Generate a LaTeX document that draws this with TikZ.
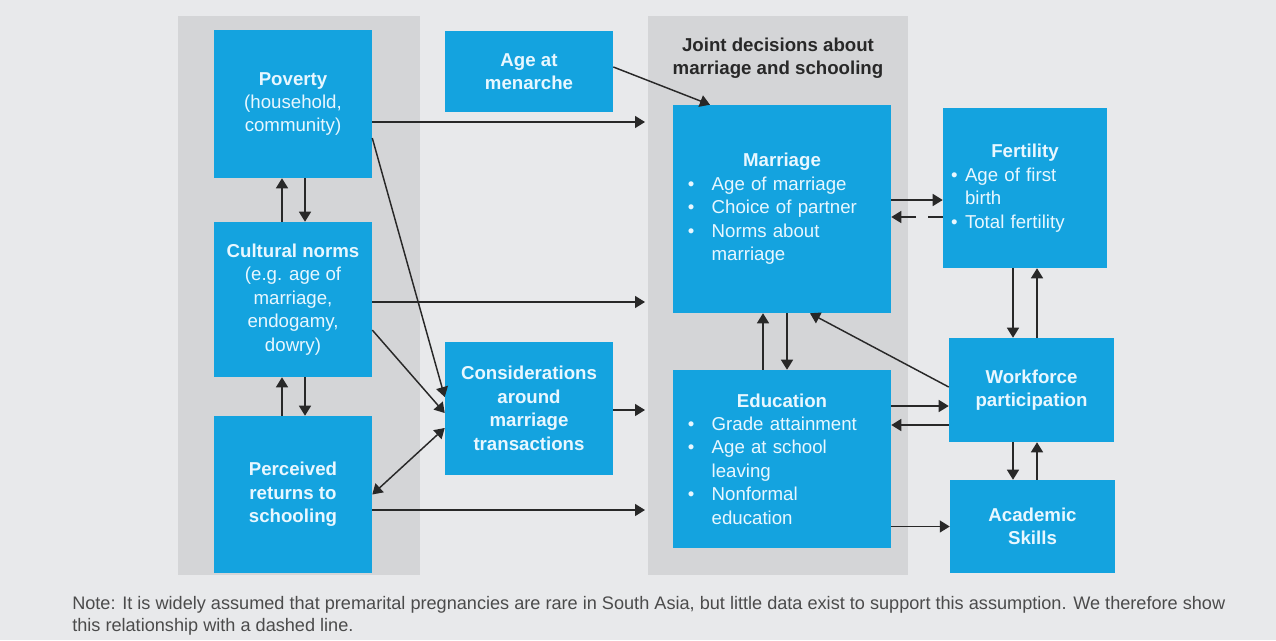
\documentclass[tikz,border=0pt]{standalone}
\usepackage{fontspec}
\setmainfont{Liberation Sans}
\usetikzlibrary{arrows.meta}

\definecolor{bgcol}{RGB}{232,233,235}
\definecolor{panelcol}{RGB}{212,213,215}
\definecolor{boxcol}{RGB}{20,163,223}
\definecolor{boxtxt}{RGB}{232,247,255}
\definecolor{linecol}{RGB}{40,40,40}
\definecolor{notecol}{RGB}{75,75,75}

% bullet list used inside the blue boxes
\newenvironment{dotlist}[1]{\begin{list}{\textbullet}{\setlength\leftmargin{#1}\setlength\labelwidth{5pt}\setlength\labelsep{\dimexpr#1-5pt\relax}\setlength\topsep{0pt}\setlength\partopsep{0pt}\setlength\itemsep{0pt}\setlength\parsep{0pt}}}{\end{list}}

\tikzset{
  blockbox/.style={fill=boxcol, text=boxtxt, inner sep=0pt, align=center, font=\fontsize{14}{17.6}\selectfont},
  arr/.style={->, draw=linecol, line width=1.1pt},
  notetext/.style={text=notecol, align=left, inner sep=0pt, font=\fontsize{13.6}{16.5}\selectfont}
}

\begin{document}
\begin{tikzpicture}[x=0.75pt,y=0.75pt,yscale=-1,xscale=1, >={Triangle[length=7.5pt,width=9pt]}]
\useasboundingbox (0,0) rectangle (1276,640);

%Shape: Background
\fill[bgcol] (0,0) rectangle (1276,640);
%Shape: Panels
\fill[panelcol] (178,16) rectangle (420,575);
\fill[panelcol] (648,16) rectangle (908,575);

\node[font=\bfseries\fontsize{14}{17.25}\selectfont, text=linecol, align=center] (jointtitle) at (778,58) {Joint decisions about\\marriage and schooling};

%Left column
\node[blockbox, minimum width=118.5pt, minimum height=111pt] (poverty) at (293,104) {\textbf{Poverty}\\(household,\\community)};
\node[blockbox, minimum width=118.5pt, minimum height=116.25pt] (norms) at (293,299.5) {\textbf{Cultural norms}\\(e.g. age of\\marriage,\\endogamy,\\dowry)};
\node[blockbox, minimum width=118.5pt, minimum height=117.75pt] (returns) at (293,494.5) {\textbf{Perceived}\\\textbf{returns to}\\\textbf{schooling}};

%Middle column
\node[blockbox, minimum width=126pt, minimum height=60.75pt] (menarche) at (529,71.5) {\textbf{Age at}\\\textbf{menarche}};
\node[blockbox, minimum width=126pt, minimum height=99.75pt] (transact) at (529,408.5) {\textbf{Considerations}\\\textbf{around}\\\textbf{marriage}\\\textbf{transactions}};

%Joint decisions
\node[blockbox, align=left, minimum width=163.5pt, minimum height=156pt, inner xsep=11pt, text width=141.5pt] (marriage) at (782,209) {{\centering\textbf{Marriage}\par}
\begin{dotlist}{18pt}
\item Age of marriage
\item Choice of partner
\item Norms about\newline marriage
\end{dotlist}};
\node[blockbox, align=left, minimum width=163.5pt, minimum height=133.5pt, inner xsep=11pt, text width=141.5pt] (educ) at (782,459) {{\centering\textbf{Education}\par}
\begin{dotlist}{18pt}
\item Grade attainment
\item Age at school\newline leaving
\item Nonformal\newline education
\end{dotlist}};

%Right column
\node[blockbox, align=left, minimum width=123pt, minimum height=120pt, inner xsep=6pt, text width=111pt] (fertility) at (1025,188) {{\centering\textbf{Fertility}\par}
\begin{dotlist}{10.5pt}
\item Age of first\newline birth
\item Total fertility
\end{dotlist}};
\node[blockbox, minimum width=123.75pt, minimum height=78pt] (workforce) at (1031.5,390) {\textbf{Workforce}\\\textbf{participation}};
\node[blockbox, minimum width=123.75pt, minimum height=69.75pt] (skills) at (1032.5,526.5) {\textbf{Academic}\\\textbf{Skills}};

%Arrow ends at the joint panel
\coordinate (j1) at (645,122);
\coordinate (j2) at (645,302);
\coordinate (j3) at (645,410);
\coordinate (j4) at (645,510);

%Straight Lines: into the joint panel
\draw[arr] (poverty.east |- j1) -- (j1);
\draw[arr] (norms.east |- j2) -- (j2);
\draw[arr] (transact.east |- j3) -- (j3);
\draw[arr] (returns.east |- j4) -- (j4);

%Straight Lines: left column
\draw[arr] ([xshift=-8.25pt]norms.north) -- ([xshift=-8.25pt]poverty.south);
\draw[arr] ([xshift=9pt]poverty.south) -- ([xshift=9pt]norms.north);
\draw[arr] ([xshift=-8.25pt]returns.north) -- ([xshift=-8.25pt]norms.south);
\draw[arr] ([xshift=9pt]norms.south) -- ([xshift=9pt]returns.north);

% (yshift runs downwards here, as yscale=-1)
\draw[arr] ([yshift=25.5pt]poverty.east) -- ([yshift=-8.6pt]transact.west);
\draw[arr] ([yshift=22.9pt]norms.east) -- ([yshift=3.4pt]transact.west);
\draw[arr, <->] ([yshift=14.6pt]transact.west) -- (returns.east);
\draw[arr] ([yshift=-3.4pt]menarche.east) -- ([xshift=-54pt]marriage.north);

%Straight Lines: joint decisions and outcomes
\draw[arr] ([xshift=-14.25pt]educ.north) -- ([xshift=-14.25pt]marriage.south);
\draw[arr] ([xshift=3.75pt]marriage.south) -- ([xshift=3.75pt]educ.north);
\draw[arr] ([yshift=-6.75pt]marriage.east) -- ([yshift=9pt]fertility.west);
\draw[arr, dash pattern={on 11pt off 9pt}] ([yshift=21.75pt]fertility.west) -- ([yshift=6pt]marriage.east);
\draw[arr] ([yshift=-2.25pt]workforce.west) -- ([xshift=21pt]marriage.south);
\draw[arr] ([yshift=-39.75pt]educ.east) -- ([yshift=12pt]workforce.west);
\draw[arr] ([yshift=26.25pt]workforce.west) -- ([yshift=-25.5pt]educ.east);
\draw[arr] ([yshift=50.625pt]educ.east) -- (skills.west);

\draw[arr] ([xshift=-9pt]fertility.south) -- ([xshift=-13.875pt]workforce.north);
\draw[arr] ([xshift=4.125pt]workforce.north) -- ([xshift=9pt]fertility.south);
\draw[arr] ([xshift=-13.875pt]workforce.south) -- ([xshift=-14.625pt]skills.north);
\draw[arr] ([xshift=3.375pt]skills.north) -- ([xshift=4.125pt]workforce.south);

%Note
\node[notetext, anchor=north west] (note) at (72,596) {Note: It is widely assumed that premarital pregnancies are rare in South Asia, but little data exist to support this assumption. We therefore show\\this relationship with a dashed line.};

\end{tikzpicture}
\end{document}
